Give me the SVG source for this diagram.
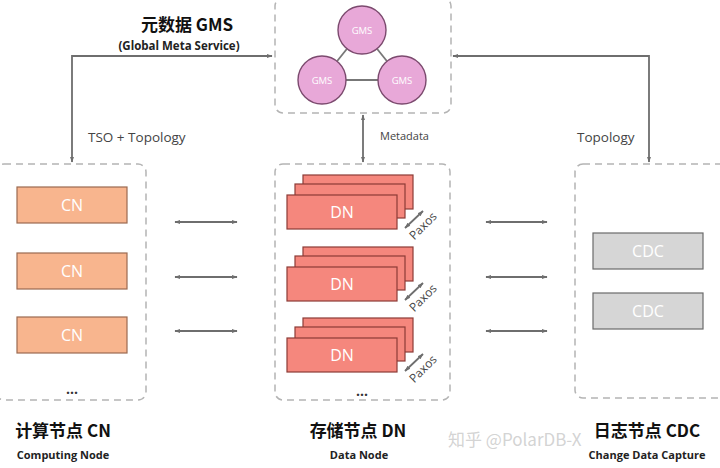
<svg xmlns="http://www.w3.org/2000/svg" width="720" height="468" viewBox="0 0 720 468">
<defs>
<marker id="ah" viewBox="0 0 10 10" refX="9" refY="5" markerWidth="6" markerHeight="6" orient="auto-start-reverse" markerUnits="userSpaceOnUse">
<path d="M0,1.5 L10,5 L0,8.5 z" fill="#6e6e6e"/>
</marker>
<style>
.frame{fill:none;stroke:#b4b4b4;stroke-width:1.5;stroke-dasharray:7 5}
.conn{fill:none;stroke:#6e6e6e;stroke-width:1.8}
.link{stroke:#777;stroke-width:1.8}
.cn{fill:#f8b58e;stroke:#9b6a50;stroke-width:1.2}
.dn{fill:#f5877d;stroke:#8c3b36;stroke-width:1.2}
.cdc{fill:#d6d6d6;stroke:#6a6a6a;stroke-width:1.2}
.gms{fill:#e8a8d8;stroke:#7b4a6e;stroke-width:1.4}
.inner{font-family:"Open Sans","Noto Sans",sans-serif;fill:#fff;text-anchor:middle}
.lbl{font-family:"Open Sans","Noto Sans",sans-serif;fill:#444}
.title{font-family:"Noto Sans CJK SC","Noto Sans",sans-serif;font-weight:bold;fill:#111;text-anchor:middle}
.sub{font-family:"Open Sans","Noto Sans",sans-serif;font-weight:bold;fill:#222;text-anchor:middle}
.dots{font-family:"Open Sans",sans-serif;font-weight:bold;fill:#333;text-anchor:middle}
</style>
</defs>
<rect width="720" height="468" fill="#fff"/>

<g id="gms">
<rect class="frame" x="275" y="-2" width="176" height="115" rx="8"/>
<line class="link" x1="362" y1="30" x2="322" y2="80"/>
<line class="link" x1="362" y1="30" x2="402" y2="80"/>
<line class="link" x1="322" y1="80" x2="402" y2="80"/>
<circle class="gms" cx="362" cy="30" r="24"/>
<circle class="gms" cx="322" cy="80" r="24"/>
<circle class="gms" cx="402" cy="80" r="24"/>
<text class="inner" x="362" y="34" font-size="9.5">GMS</text>
<text class="inner" x="322" y="84" font-size="9.5">GMS</text>
<text class="inner" x="402" y="84" font-size="9.5">GMS</text>
<text class="title" x="187" y="31" font-size="17">元数据 GMS</text>
<text class="sub" x="179" y="50" font-size="11.5">(Global Meta Service)</text>
</g>

<g id="cn-group">
<rect class="frame" x="-4" y="164" width="150" height="236" rx="8"/>
<rect class="cn" x="17" y="187" width="110" height="36"/>
<rect class="cn" x="17" y="253" width="110" height="36"/>
<rect class="cn" x="17" y="317" width="110" height="36"/>
<text class="inner" x="72" y="211" font-size="16">CN</text>
<text class="inner" x="72" y="277" font-size="16">CN</text>
<text class="inner" x="72" y="341" font-size="16">CN</text>
<text class="dots" x="72" y="394" font-size="14">...</text>
<text class="title" x="63" y="437" font-size="17">计算节点 CN</text>
<text class="sub" x="63" y="459" font-size="11">Computing Node</text>
</g>

<g id="dn-group">
<rect class="frame" x="275" y="164" width="175" height="236" rx="8"/>
<g id="dn1">
<rect class="dn" x="303" y="175" width="110" height="34"/>
<rect class="dn" x="295" y="184" width="110" height="34"/>
<rect class="dn" x="287" y="195" width="110" height="34"/>
<text class="inner" x="342" y="218" font-size="16">DN</text>
</g>
<g id="dn2">
<rect class="dn" x="303" y="247" width="110" height="34"/>
<rect class="dn" x="295" y="256" width="110" height="34"/>
<rect class="dn" x="287" y="267" width="110" height="34"/>
<text class="inner" x="342" y="290" font-size="16">DN</text>
</g>
<g id="dn3">
<rect class="dn" x="303" y="318" width="110" height="34"/>
<rect class="dn" x="295" y="327" width="110" height="34"/>
<rect class="dn" x="287" y="338" width="110" height="34"/>
<text class="inner" x="342" y="361" font-size="16">DN</text>
</g>
<text class="dots" x="362" y="396" font-size="14">...</text>
<text class="title" x="358" y="437" font-size="17">存储节点 DN</text>
<text class="sub" x="359" y="459" font-size="11">Data Node</text>
</g>

<g id="cdc-group">
<rect class="frame" x="575" y="164" width="160" height="234" rx="8"/>
<rect class="cdc" x="593" y="233" width="110" height="36"/>
<rect class="cdc" x="593" y="293" width="110" height="36"/>
<text class="inner" x="648" y="257" font-size="16">CDC</text>
<text class="inner" x="648" y="317" font-size="16">CDC</text>
<text class="title" x="647" y="437" font-size="17">日志节点 CDC</text>
<text class="sub" x="647" y="459" font-size="11">Change Data Capture</text>
</g>

<g id="connectors">
<polyline class="conn" points="72,162 72,56 272,56" marker-start="url(#ah)" marker-end="url(#ah)"/>
<polyline class="conn" points="649,162 649,56 453,56" marker-start="url(#ah)" marker-end="url(#ah)"/>
<line class="conn" x1="363" y1="115" x2="363" y2="162" marker-start="url(#ah)" marker-end="url(#ah)"/>
<line class="conn" x1="175" y1="222" x2="237" y2="222" marker-start="url(#ah)" marker-end="url(#ah)"/>
<line class="conn" x1="175" y1="277" x2="237" y2="277" marker-start="url(#ah)" marker-end="url(#ah)"/>
<line class="conn" x1="175" y1="331" x2="237" y2="331" marker-start="url(#ah)" marker-end="url(#ah)"/>
<line class="conn" x1="486" y1="222" x2="547" y2="222" marker-start="url(#ah)" marker-end="url(#ah)"/>
<line class="conn" x1="486" y1="277" x2="547" y2="277" marker-start="url(#ah)" marker-end="url(#ah)"/>
<line class="conn" x1="486" y1="331" x2="547" y2="331" marker-start="url(#ah)" marker-end="url(#ah)"/>
<line class="conn" x1="405" y1="228" x2="423" y2="211" stroke-width="1.2" marker-start="url(#ah)" marker-end="url(#ah)"/>
<line class="conn" x1="405" y1="300" x2="423" y2="283" stroke-width="1.2" marker-start="url(#ah)" marker-end="url(#ah)"/>
<line class="conn" x1="405" y1="371" x2="423" y2="354" stroke-width="1.2" marker-start="url(#ah)" marker-end="url(#ah)"/>
</g>

<g id="labels">
<text class="lbl" x="88" y="142" font-size="13.5">TSO + Topology</text>
<text class="lbl" x="380" y="140" font-size="11">Metadata</text>
<text class="lbl" x="577" y="142" font-size="13.5">Topology</text>
<text class="lbl" transform="translate(423,226) rotate(-45)" text-anchor="middle" font-size="12" y="4">Paxos</text>
<text class="lbl" transform="translate(423,298) rotate(-45)" text-anchor="middle" font-size="12" y="4">Paxos</text>
<text class="lbl" transform="translate(423,369) rotate(-45)" text-anchor="middle" font-size="12" y="4">Paxos</text>
</g>

<text x="448" y="446" font-family="'Noto Sans CJK SC','Noto Sans',sans-serif" font-size="17" fill="#c8c8c8" fill-opacity="0.8">知乎 @PolarDB-X</text>
</svg>
